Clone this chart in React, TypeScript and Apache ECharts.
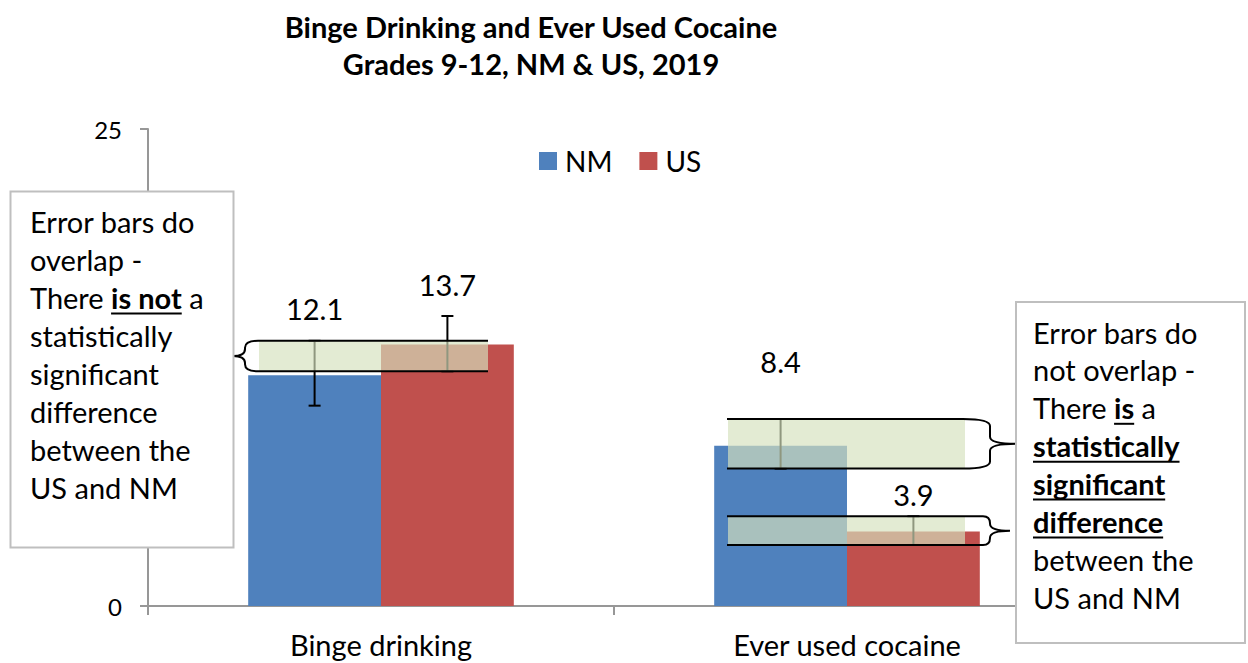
import React, { useEffect, useRef } from "react";
import * as echarts from "echarts";

// ---------- data ----------
const categories = ["Binge drinking", "Ever used cocaine"];
const seriesNames = ["NM", "US"];
const nmValues = [12.1, 8.4];
const usValues = [13.7, 3.9];
const nmLow = [10.5, 7.2];
const nmHigh = [13.9, 9.8];
const usLow = [12.3, 3.2];
const usHigh = [15.2, 4.7];
const yMin = 0;
const yMax = 25;

// comparison bands built from the confidence limits: [category, low, high]
const bands = [
  [0, usLow[0], nmHigh[0]],
  [1, nmLow[1], nmHigh[1]],
  [1, usLow[1], usHigh[1]],
];

const leftNote: [string, boolean][][] = [
  [["Error bars do", false]],
  [["overlap -", false]],
  [["There ", false], ["is not", true], [" a", false]],
  [["statistically", false]],
  [["significant", false]],
  [["difference", false]],
  [["between the", false]],
  [["US and NM", false]],
];
const rightNote: [string, boolean][][] = [
  [["Error bars do", false]],
  [["not overlap -", false]],
  [["There ", false], ["is", true], [" a", false]],
  [["statistically", true]],
  [["significant", true]],
  [["difference", true]],
  [["between the", false]],
  [["US and NM", false]],
];

// ---------- layout / style ----------
const FONT = "Lato";
const BAR_GAP = 0.43;
const COLORS = ["#4f81bd", "#c0504d"];
const labelOffsets = { NM: [-48, -65], US: [-41, -18] };
// band geometry, px offsets from the category centre
const bandLayout = [
  { fillL: -122, fillR: 107, lineL: -123, lineR: 107, side: "left", mid: -136, tip: -148 },
  { fillL: -119, fillR: 118, lineL: -120, lineR: 116, side: "right", mid: 143, tip: 169 },
  { fillL: -119, fillR: 118, lineL: -120, lineR: 136, side: "right", mid: 143, tip: 163 },
];

const lineStyle = { stroke: "#000", lineWidth: 2 };

function renderErr(sIdx: number) {
  return (params: any, api: any) => {
    const cat = api.value(0);
    const lo = api.value(1);
    const hi = api.value(2);
    const bandW = api.size([1, 0])[0];
    const barW = (bandW * (1 - BAR_GAP)) / 2;
    const cx = api.coord([cat, 0])[0] + (sIdx === 0 ? -barW / 2 : barW / 2);
    const yTop = api.coord([cat, hi])[1];
    const yBot = api.coord([cat, lo])[1];
    const cap = 6;
    return {
      type: "group",
      children: [
        { type: "line", shape: { x1: cx, y1: yTop, x2: cx, y2: yBot }, style: lineStyle },
        { type: "line", shape: { x1: cx - cap, y1: yTop, x2: cx + cap, y2: yTop }, style: lineStyle },
        { type: "line", shape: { x1: cx - cap, y1: yBot, x2: cx + cap, y2: yBot }, style: lineStyle },
      ],
    };
  };
}

function renderBand(params: any, api: any) {
  const L = bandLayout[params.dataIndex];
  const cat = api.value(0);
  const cx = api.coord([cat, 0])[0];
  const y1 = api.coord([cat, api.value(2)])[1];
  const y2 = api.coord([cat, api.value(1)])[1];
  const ym = (y1 + y2) / 2;
  const x0 = L.side === "left" ? cx + L.lineL : cx + L.lineR;
  const xm = cx + L.mid;
  const xt = cx + L.tip;
  const r = Math.min(7, (y2 - y1) / 4);
  const d =
    `M${x0} ${y1} Q${xm} ${y1} ${xm} ${y1 + r} L${xm} ${ym - r} Q${xm} ${ym} ${xt} ${ym} ` +
    `Q${xm} ${ym} ${xm} ${ym + r} L${xm} ${y2 - r} Q${xm} ${y2} ${x0} ${y2}`;
  return {
    type: "group",
    children: [
      {
        type: "rect",
        shape: { x: cx + L.fillL, y: y1, width: L.fillR - L.fillL, height: y2 - y1 },
        style: { fill: "rgba(213,225,189,0.67)" },
      },
      { type: "line", shape: { x1: cx + L.lineL, y1: y1, x2: cx + L.lineR, y2: y1 }, style: lineStyle },
      { type: "line", shape: { x1: cx + L.lineL, y1: y2, x2: cx + L.lineR, y2: y2 }, style: lineStyle },
      { type: "path", shape: { pathData: d }, style: { fill: "none", stroke: "#000", lineWidth: 2 } },
    ],
  };
}

let measureCtx: CanvasRenderingContext2D | null = null;
function measure(text: string, bold: boolean, size: number) {
  if (!measureCtx) measureCtx = document.createElement("canvas").getContext("2d");
  measureCtx!.font = `${bold ? "bold " : ""}${size}px ${FONT}`;
  return measureCtx!.measureText(text).width;
}

const NOTE_SIZE = 29;
const NOTE_LINE = 37.9;
function noteBox(
  x: number, y: number, w: number, h: number,
  textX: number, firstBase: number, lines: [string, boolean][][]
) {
  const els: any[] = [
    { type: "rect", z: 100, shape: { x, y, width: w, height: h }, style: { fill: "#fff", stroke: "#bfbfbf", lineWidth: 2 } },
  ];
  lines.forEach((segs, i) => {
    const base = firstBase + i * NOTE_LINE;
    let cx = textX;
    segs.forEach(([t, bold]) => {
      const wd = measure(t, bold, NOTE_SIZE);
      els.push({
        type: "text", z: 101, x: cx, y: base - 11,
        style: {
          text: t, fill: "#000", align: "left", verticalAlign: "middle",
          font: `${bold ? "bold " : ""}${NOTE_SIZE}px ${FONT}`,
        },
      });
      if (bold) {
        els.push({
          type: "line", z: 101,
          shape: { x1: cx, y1: base + 5, x2: cx + wd, y2: base + 5 },
          style: { stroke: "#000", lineWidth: 2 },
        });
      }
      cx += wd;
    });
  });
  return els;
}

export default function App() {
  const ref = useRef<HTMLDivElement>(null);
  useEffect(() => {
    if (!ref.current) return;
    const chart = echarts.init(ref.current, undefined, { renderer: "svg" });
    const option: any = {
      animation: false,
      backgroundColor: "#fff",
      textStyle: { fontFamily: FONT },
      grid: { left: 148, right: 168, top: 129, bottom: 57 },
      legend: {
        data: seriesNames,
        left: 539,
        top: 147,
        padding: 0,
        itemWidth: 18,
        itemHeight: 18,
        itemGap: 27,
        icon: "rect",
        textStyle: { fontSize: 28, fontFamily: FONT, color: "#000", lineHeight: 28, padding: [0, 0, 0, 3] },
      },
      xAxis: {
        type: "category",
        data: categories,
        axisLine: { lineStyle: { color: "#979797", width: 2 } },
        axisTick: { show: true, length: 9, lineStyle: { color: "#979797", width: 2 } },
        axisLabel: { fontSize: 29, fontFamily: FONT, color: "#000", margin: 23, lineHeight: 30 },
      },
      yAxis: {
        type: "value",
        min: yMin,
        max: yMax,
        interval: 25,
        splitLine: { show: false },
        axisLine: { show: true, lineStyle: { color: "#979797", width: 2 } },
        axisTick: { show: true, length: 8, lineStyle: { color: "#979797", width: 2 } },
        axisLabel: { fontSize: 24, fontFamily: FONT, color: "#000", margin: 26 },
      },
      series: [
        {
          name: "NM", type: "bar", barGap: "0%", barCategoryGap: `${BAR_GAP * 100}%`,
          itemStyle: { color: COLORS[0] },
          data: nmValues.map((v, i) => ({ value: v, label: { offset: [0, labelOffsets.NM[i]] } })),
          label: { show: true, position: "top", distance: 5, fontSize: 29, fontFamily: FONT, color: "#000", lineHeight: 28 },
          z: 2,
        },
        {
          name: "US", type: "bar", barGap: "0%", barCategoryGap: `${BAR_GAP * 100}%`,
          itemStyle: { color: COLORS[1] },
          data: usValues.map((v, i) => ({ value: v, label: { offset: [0, labelOffsets.US[i]] } })),
          label: { show: true, position: "top", distance: 5, fontSize: 29, fontFamily: FONT, color: "#000", lineHeight: 28 },
          z: 2,
        },
        {
          name: "NM CI", type: "custom", renderItem: renderErr(0), z: 3,
          data: categories.map((_, i) => [i, nmLow[i], nmHigh[i]]),
          encode: { x: 0, y: [1, 2] }, silent: true,
        },
        {
          name: "US CI", type: "custom", renderItem: renderErr(1), z: 3,
          data: categories.map((_, i) => [i, usLow[i], usHigh[i]]),
          encode: { x: 0, y: [1, 2] }, silent: true,
        },
        {
          name: "Comparison", type: "custom", renderItem: renderBand, z: 4,
          data: bands,
          encode: { x: 0, y: [1, 2] }, silent: true,
        },
      ],
      graphic: [
        {
          type: "text", z: 100, x: 531, y: 26,
          style: { text: "Binge Drinking and Ever Used Cocaine", align: "center", verticalAlign: "middle", font: `bold 29px ${FONT}`, fill: "#000" },
        },
        {
          type: "text", z: 100, x: 531, y: 63,
          style: { text: "Grades 9-12, NM & US, 2019", align: "center", verticalAlign: "middle", font: `bold 29px ${FONT}`, fill: "#000" },
        },
        ...noteBox(10.5, 191.5, 223, 356, 30, 232.7, leftNote),
        ...noteBox(1016, 302, 229, 341, 1033, 343, rightNote),
      ],
    };
    chart.setOption(option);
    return () => chart.dispose();
  }, []);
  return (
    <div
      ref={ref}
      style={{ position: "fixed", left: 0, top: 0, width: 1248, height: 663 }}
    />
  );
}
